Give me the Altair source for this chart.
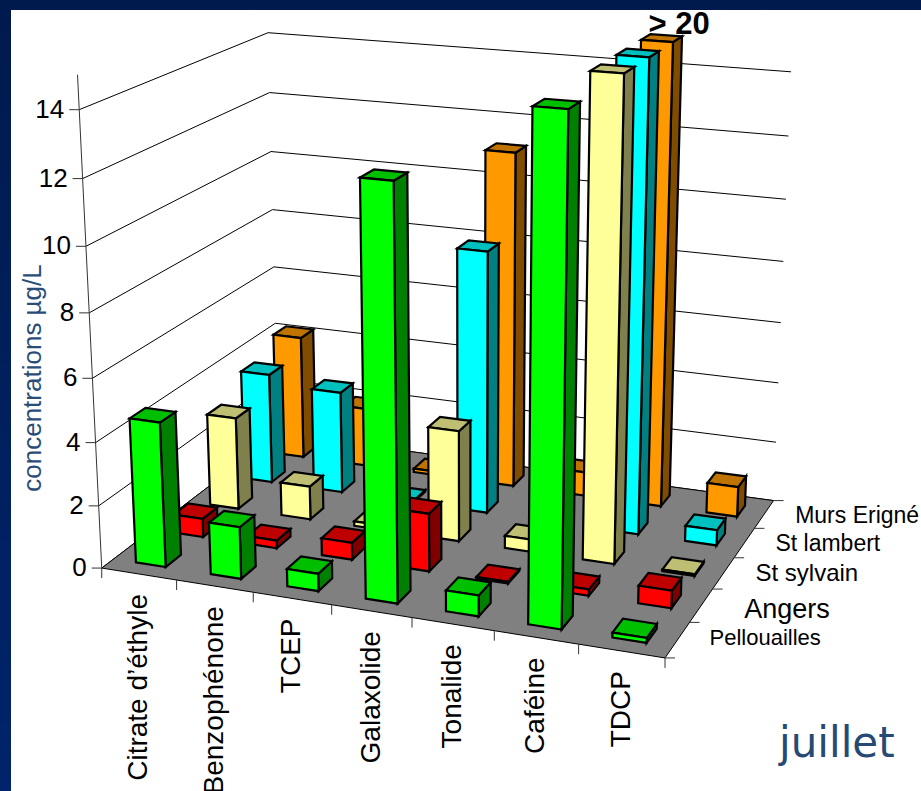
import altair as alt
import numpy as np
import pandas as pd

W, H = 921, 791

CATEGORIES = ["Citrate d’éthyle", "Benzophénone", "TCEP", "Galaxolide", "Tonalide", "Caféine", "TDCP"]
SERIES = ["Pellouailles", "Angers", "St sylvain", "St lambert", "Murs Erigné"]

# concentrations in µg/L per site, one value per compound
PELLOUAILLES = [4.6, 1.65, 0.55, 12.6, 0.65, 15.5, 0.15]
ANGERS = [0.6, 0.25, 0.55, 1.85, 0.05, 0.2, 0.55]
ST_SYLVAIN = [3.05, 1.1, 0.15, 3.6, 0.4, 15.5, 0.05]
ST_LAMBERT = [3.7, 3.4, 0.05, 8.6, 0.1, 15.5, 0.5]
MURS_ERIGNE = [4.2, 2.0, 0.12, 11.15, 0.8, 20.0, 1.0]
VALUES = [PELLOUAILLES, ANGERS, ST_SYLVAIN, ST_LAMBERT, MURS_ERIGNE]

VALUE_TICKS = [0, 2, 4, 6, 8, 10, 12, 14]
AXIS_MAX = 15

# face colours per site: front, top, side
FRONT = ["#00ff00", "#ff0000", "#ffff99", "#00ffff", "#ff9900"]
TOP = ["#00bf00", "#bf0000", "#bfbf73", "#00bfbf", "#bf7300"]
SIDE = ["#008000", "#800000", "#80804d", "#008080", "#804d00"]

# Camera: a perspective matrix solved from reference points of the 3D box,
# (compound position, site position, value) -> page position.
CAMERA_POINTS = [
    ((0, 0, 0), (100, 568)), ((7, 0, 0), (665, 657)), ((7, 5, 0), (774, 500)), ((0, 5, 0), (279, 433)),
    ((0, 0, 14), (80, 110)), ((0, 5, 14), (268, 32)), ((7, 5, 14), (791, 71)),
    ((0, 0, 8), (89, 313)), ((0, 5, 8), (272, 211)), ((7, 5, 8), (783, 262)),
    ((3, 0, 0), (332, 604)), ((1, 0, 0), (177, 580)), ((5, 0, 0), (495, 631)),
    ((7, 1, 0), (690, 623)), ((7, 3, 0), (733, 559)),
]


def solve_camera(points):
    rows, rhs = [], []
    for (u, v, w), (x, y) in points:
        rows.append([u, v, w, 1, 0, 0, 0, 0, -x * u, -x * v, -x * w])
        rows.append([0, 0, 0, 0, u, v, w, 1, -y * u, -y * v, -y * w])
        rhs += [x, y]
    p = np.linalg.lstsq(np.array(rows, float), np.array(rhs, float), rcond=None)[0]
    return np.append(p, 1.0).reshape(3, 4)


CAMERA = solve_camera(CAMERA_POINTS)


def project(u, v, w):
    x, y, z = CAMERA @ np.array([u, v, w, 1.0])
    return [float(x / z), float(y / z)]


def polygon(corners, fill, stroke_width):
    ring = [project(*c) for c in corners]
    ring.append(ring[0])
    return {
        "type": "Feature",
        "properties": {"fill": fill, "sw": stroke_width},
        "geometry": {"type": "Polygon", "coordinates": [ring]},
    }


# floor first, then bars from the back row forwards and left to right
features = [polygon([(0, 0, 0), (7, 0, 0), (7, 5, 0), (0, 5, 0)], "#808080", 1.0)]
GAP = 0.3
EDGE = 2.2
for j in reversed(range(len(SERIES))):
    for i in range(len(CATEGORIES)):
        h = min(VALUES[j][i], AXIS_MAX)
        u0, u1, v0, v1 = i + GAP, i + 1 - GAP, j + GAP, j + 1 - GAP
        features.append(polygon([(u1, v0, 0), (u1, v1, 0), (u1, v1, h), (u1, v0, h)], SIDE[j], EDGE))
        features.append(polygon([(u0, v0, h), (u1, v0, h), (u1, v1, h), (u0, v1, h)], TOP[j], EDGE))
        features.append(polygon([(u0, v0, 0), (u1, v0, 0), (u1, v0, h), (u0, v0, h)], FRONT[j], EDGE))

x_page = alt.Scale(domain=[0, W], nice=False, zero=False)
y_page = alt.Scale(domain=[H, 0], nice=False, zero=False)


def segments(rows, color="#000000", width=1.0):
    frame = pd.DataFrame(rows, columns=["x", "y", "x2", "y2"])
    return alt.Chart(frame).mark_rule(color=color, strokeWidth=width).encode(
        x=alt.X("x:Q", scale=x_page, axis=None),
        y=alt.Y("y:Q", scale=y_page, axis=None),
        x2="x2:Q",
        y2="y2:Q",
    )


def labels(rows, angle=0, align="left", baseline="middle", color="#000000", weight="normal", font="Liberation Sans"):
    frame = pd.DataFrame(rows, columns=["x", "y", "label", "px"])
    return alt.Chart(frame).mark_text(
        angle=angle, align=align, baseline=baseline, color=color, fontWeight=weight, font=font
    ).encode(
        x=alt.X("x:Q", scale=x_page, axis=None),
        y=alt.Y("y:Q", scale=y_page, axis=None),
        text="label:N",
        size=alt.Size("px:Q", scale=None, legend=None),
    )


# wall grid: left wall then back wall at every value tick
grid_rows = []
for w in VALUE_TICKS:
    a, b, c = project(0, 0, w), project(0, 5, w), project(7, 5, w)
    grid_rows.append(a + b)
    grid_rows.append(b + c)

# axis lines and tick marks, drawn on top of the floor
TICK = 10
tick_rows = [project(0, 0, 0) + project(0, 0, AXIS_MAX)]
for w in VALUE_TICKS:
    x, y = project(0, 0, w)
    tick_rows.append([x - TICK, y, x, y])
for u in range(len(CATEGORIES) + 1):
    x, y = project(u, 0, 0)
    tick_rows.append([x, y, x, y + TICK])
for v in range(len(SERIES) + 1):
    x, y = project(7, v, 0)
    tick_rows.append([x, y, x + TICK, y])

value_label_rows = [
    [project(0, 0, w)[0] - 15, project(0, 0, w)[1], str(w), 26] for w in VALUE_TICKS
]
category_label_rows = [
    [project(i + 0.5, 0, 0)[0], project(i + 0.5, 0, 0)[1] + 20, name, 28]
    for i, name in enumerate(CATEGORIES)
]
SERIES_SIZE = [22, 27, 24, 23, 23]
SERIES_SHIFT = [32, 43, 32, 31, 31]
SERIES_DROP = [-2, 5, 1, 1, 2]
series_label_rows = [
    [project(7, j + 0.5, 0)[0] + SERIES_SHIFT[j], project(7, j + 0.5, 0)[1] + SERIES_DROP[j], name, SERIES_SIZE[j]]
    for j, name in enumerate(SERIES)
]

# annotation sits just above the clipped back bar of Caféine
cafeine, murs = CATEGORIES.index("Caféine"), SERIES.index("Murs Erigné")
ax, ay = project(cafeine + 0.5, murs + 0.5, min(VALUES[murs][cafeine], AXIS_MAX))

backdrop = alt.Chart(pd.DataFrame({"a": [0]})).mark_rect(
    fill=alt.LinearGradient(
        gradient="linear", x1=0, y1=0, x2=0, y2=1,
        stops=[alt.GradientStop(color="#001a4d", offset=0), alt.GradientStop(color="#00246b", offset=1)],
    )
).encode(x=alt.value(0), x2=alt.value(W), y=alt.value(0), y2=alt.value(H))
panel = alt.Chart(pd.DataFrame({"a": [0]})).mark_rect(fill="#ffffff").encode(
    x=alt.value(11), x2=alt.value(W), y=alt.value(10), y2=alt.value(H)
)

bars = alt.Chart(alt.Data(values=features)).mark_geoshape(stroke="#000000").encode(
    fill=alt.Fill("properties.fill:N", scale=None, legend=None),
    strokeWidth=alt.StrokeWidth("properties.sw:Q", scale=None, legend=None),
).project(type="identity", scale=1, translate=[0, 0])

chart = alt.layer(
    backdrop,
    panel,
    segments(grid_rows),
    bars,
    segments(tick_rows, color="#333333"),
    labels(value_label_rows, align="right"),
    labels(category_label_rows, angle=270, align="right"),
    labels(series_label_rows),
    labels([[33, 378, "concentrations µg/L", 26]], angle=270, align="center", color="#2a4d78"),
    labels([[ax - 13, ay - 4, "> 20", 31]], weight="bold", align="left", baseline="alphabetic"),
    labels([[779, 744, "juillet", 42]], color="#264a73", font="DejaVu Sans"),
).properties(
    width=W, height=H, padding=0, autosize=alt.AutoSizeParams(type="none")
).configure_view(strokeWidth=0)

chart.save("out.html", embed_options={"renderer": "svg", "actions": False})
